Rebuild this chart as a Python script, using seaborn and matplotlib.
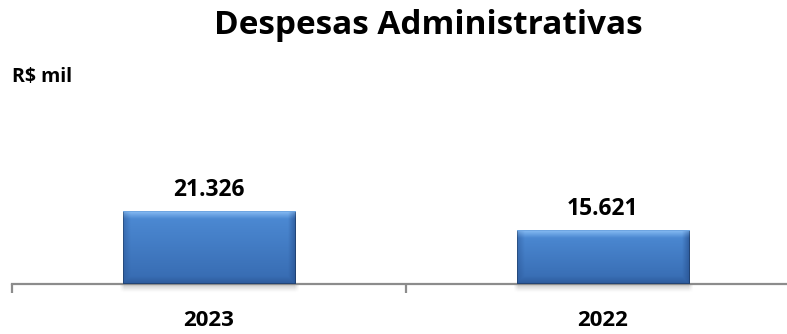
import numpy as np
import pandas as pd
import matplotlib
matplotlib.use("Agg")
import matplotlib.pyplot as plt
import seaborn as sns

# Values in R$ thousand
anos = ["2023", "2022"]
valores = [21326, 15621]
rotulos = ["21.326", "15.621"]

sns.set_theme(style="white")
plt.rcParams["font.family"] = ["Open Sans", "DejaVu Sans"]

W, H = 787, 334
fig = plt.figure(figsize=(W / 100, H / 100), dpi=100)
ax_left, ax_right, ax_base, ax_h = 12, 800, 284, 102
ax = fig.add_axes([ax_left / W, (H - ax_base) / H, (ax_right - ax_left) / W, ax_h / H])

df = pd.DataFrame({"ano": anos, "valor": valores})
sns.barplot(data=df, x="ano", y="valor", ax=ax, width=0.438,
            color="#4a86cc", saturation=1, zorder=2)

ax.set_xlim(-0.5, 1.5)
ax.set_ylim(0, 30000)
ax.set_xlabel("")
ax.set_ylabel("")
ax.set_yticks([])

for s in ["top", "right", "left"]:
    ax.spines[s].set_visible(False)
ax.spines["bottom"].set_color("#8c8c8c")
ax.spines["bottom"].set_linewidth(1.6)
ax.spines["bottom"].set_zorder(1)

# Category labels on major ticks, separator ticks between categories
ax.set_xticks(range(len(anos)))
ax.set_xticklabels(anos, fontsize=16, fontweight="bold", color="black")
ax.tick_params(axis="x", which="major", length=0, pad=19)
ax.set_xticks([-0.5, 0.5, 1.5], minor=True)
ax.tick_params(axis="x", which="minor", length=6.5, width=1.6,
               color="#8c8c8c", direction="out", bottom=True)

# Bevelled gradient fill for each bar, plus a soft shadow underneath
px_per_x = (ax_right - ax_left) / 2.0
px_per_y = ax_h / 30000.0
for patch in ax.patches:
    x0 = patch.get_x()
    w = patch.get_width()
    h = patch.get_height()
    wp = max(int(round(w * px_per_x)), 2)
    hp = max(int(round(h * px_per_y)), 2)
    rows = np.arange(hp)[:, None] + 0.5
    cols = np.arange(wp)[None, :] + 0.5
    t = rows / hp
    top_c = np.array([78, 140, 214]) / 255
    bot_c = np.array([54, 106, 176]) / 255
    img = top_c[None, None, :] * (1 - t[..., None]) + bot_c[None, None, :] * t[..., None]
    img = np.broadcast_to(img, (hp, wp, 3)).copy()
    bev = 8.0
    # top highlight band
    hl = np.clip(1 - rows / bev, 0, 1) ** 1.1
    hl = np.broadcast_to(hl, (hp, wp))
    light = np.array([145, 196, 248]) / 255
    img = img * (1 - hl[..., None] * 0.9) + light * (hl[..., None] * 0.9)
    # side and bottom shading
    sl = np.broadcast_to(np.clip(1 - cols / bev, 0, 1), (hp, wp))
    sr = np.broadcast_to(np.clip(1 - (wp - cols) / bev, 0, 1), (hp, wp))
    sb = np.broadcast_to(np.clip(1 - (hp - rows) / bev, 0, 1), (hp, wp))
    dark = np.array([40, 82, 145]) / 255
    shade = np.maximum(np.maximum(sl * 0.5, sr * 0.8), sb * 0.65)
    shade = shade * (1 - hl * 0.6)
    img = img * (1 - shade[..., None]) + dark * shade[..., None]
    # thin darker outline
    edge = np.zeros((hp, wp), dtype=bool)
    edge[:, 0] = edge[:, -1] = True
    edge[-1, :] = True
    img[edge] = img[edge] * 0.75
    img[0, :] = np.array([110, 165, 225]) / 255
    ax.imshow(np.clip(img, 0, 1), extent=(x0, x0 + w, 0, h), aspect="auto",
              interpolation="bilinear", zorder=3)
    patch.set_facecolor("none")
    patch.set_edgecolor("none")

    # shadow below the bar
    sh_h = 9
    sh_rows = (np.arange(sh_h) + 0.5) / sh_h
    alpha = 0.38 * (1 - sh_rows) ** 1.5
    sh = np.zeros((sh_h, wp + 6, 4))
    sh[..., :3] = 0.35
    edge_fade = np.ones(wp + 6)
    edge_fade[:5] = np.linspace(0.2, 1, 5)
    edge_fade[-5:] = np.linspace(1, 0.2, 5)
    sh[..., 3] = alpha[:, None] * edge_fade[None, :]
    dx = 3 / px_per_x
    ax.imshow(sh, extent=(x0 - dx, x0 + w + dx, -sh_h / px_per_y, 0),
              aspect="auto", interpolation="bilinear", zorder=0.5, clip_on=False)

ax.set_xlim(-0.5, 1.5)
ax.set_ylim(0, 30000)

# Value labels above bars
for i, (v, lab) in enumerate(zip(valores, rotulos)):
    ax.annotate(lab, xy=(i, v), xytext=(0, 11.2), textcoords="offset points",
                ha="center", va="baseline", fontsize=16.5, fontweight="bold",
                color="black", zorder=5)

fig.text(428 / W, 1 - 34 / H, "Despesas Administrativas", ha="center",
         va="baseline", fontsize=24, fontweight="bold", color="black")
fig.text(12 / W, 1 - 82 / H, "R$ mil", ha="left", va="baseline",
         fontsize=14, fontweight="bold", color="black")

fig.savefig("out.png", dpi=100)
